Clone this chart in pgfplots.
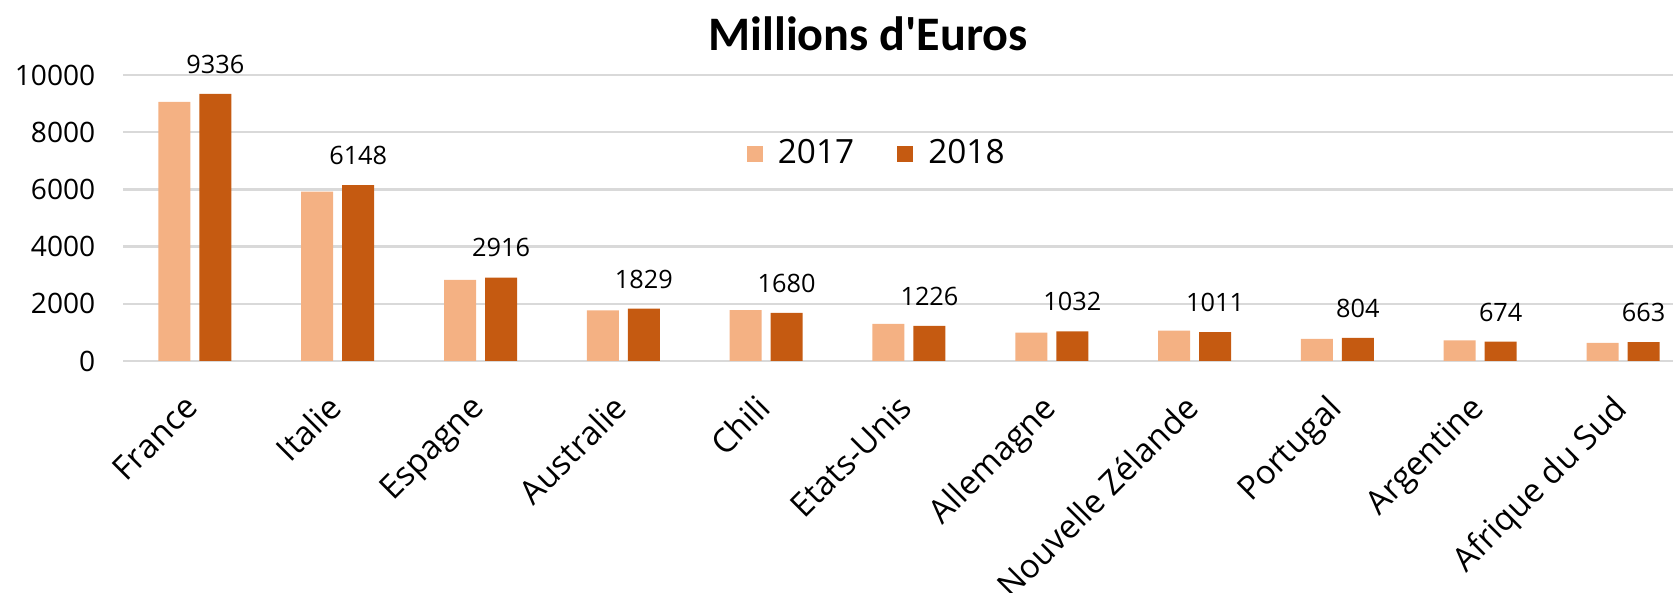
\documentclass[border=0pt]{standalone}
\usepackage{fontspec}
\setmainfont{Open Sans}
\newfontfamily\titlefont{Carlito}[Ligatures=TeXOff]
\usepackage{pgfplots}
\pgfplotsset{compat=1.18}
\definecolor{c17}{HTML}{F4B183}
\definecolor{c18}{HTML}{C55A11}
\definecolor{gridc}{HTML}{D9D9D9}
\pgfplotsset{/pgf/number format/assume math mode=true, /pgf/number format/1000 sep={}}

\begin{document}
\begin{tikzpicture}
\path[use as bounding box] (-12.35mm,-23.2mm) rectangle (155.65mm,36.1mm);
\begin{axis}[
  scale only axis, width=154.95mm, height=28.6mm,
  ymin=0, ymax=10000, ytick={0,2000,...,10000},
  scaled y ticks=false,
  xmin=-0.5, xmax=10.35,
  xtick=data,
  xticklabels={France,Italie,Espagne,Australie,Chili,Etats-Unis,Allemagne,Nouvelle Zélande,Portugal,Argentine,Afrique du Sud},
  ybar=0.9mm, bar width=3.2mm,
  axis line style={draw=none},
  major tick length=0pt,
  ymajorgrids, grid style={gridc, line width=0.25mm},
  yticklabel style={font=\fontsize{8}{10}\selectfont, inner xsep=0pt, xshift=-2.75mm},
  xticklabel style={font=\fontsize{9.4}{11}\selectfont, xshift=-1.2mm, yshift=-3.1mm, rotate=45, anchor=north east, inner sep=0pt},
  legend style={at={(0.395,0.725)}, anchor=west, draw=none, fill=none, legend columns=2,
    font=\fontsize{9.5}{11}\selectfont,
    /tikz/every odd column/.append style={column sep=0.8mm},
    /tikz/every even column/.append style={column sep=3.6mm}},
  clip=false,
]
\addplot+[fill=c17, draw=none,
  legend image code/.code={\fill[c17] (0mm,-0.8mm) rectangle (1.6mm,0.8mm);}]
  coordinates {(0,9060) (1,5920) (2,2840) (3,1770) (4,1780) (5,1300) (6,995) (7,1060) (8,770) (9,720) (10,635)};
\addplot+[fill=c18, draw=none,
  legend image code/.code={\fill[c18] (0mm,-0.8mm) rectangle (1.6mm,0.8mm);},
  nodes near coords,
  every node near coord/.append style={font=\fontsize{7.2}{9}\selectfont, text=black, anchor=south, yshift=0.8mm}]
  coordinates {(0,9336) (1,6148) (2,2916) (3,1829) (4,1680) (5,1226) (6,1032) (7,1011) (8,804) (9,674) (10,663)};
\legend{2017,2018}
\end{axis}
\node[font=\titlefont\bfseries\fontsize{13.7}{16}\selectfont] at (74.45mm,32.7mm) {Millions d'Euros};
\end{tikzpicture}
\end{document}
